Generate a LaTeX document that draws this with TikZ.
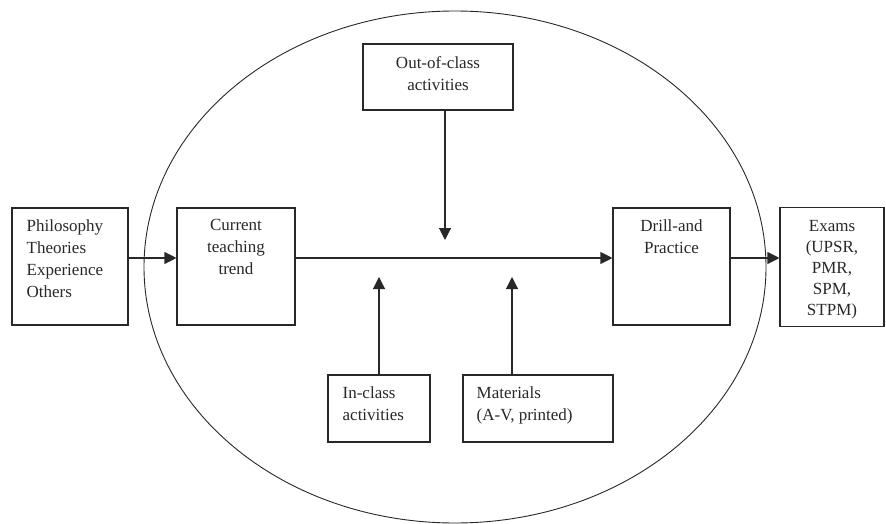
\documentclass[tikz,border=0pt]{standalone}
\usepackage{fontspec}
\setmainfont{Liberation Serif}
\usetikzlibrary{arrows.meta}
\definecolor{ink}{RGB}{40,40,40}
\tikzset{
  box/.style={draw=ink, line width=1.1pt, rectangle, inner sep=0pt},
  lab/.style={inner sep=0pt, text=ink, font=\fontsize{17}{22}\selectfont},
  conn/.style={draw=ink, line width=1.1pt, -{Triangle[length=12pt,width=12pt]}},
}
\begin{document}
\begin{tikzpicture}[x=1pt,y=-1pt]
\useasboundingbox (0,0) rectangle (886,524);
% ellipse
\draw[ink, line width=0.9pt] (455,267) ellipse [x radius=311, y radius=256];
% boxes
\node[box, minimum width=116pt, minimum height=117pt] (phil) at (70,266.5) {};
\node[box, minimum width=118pt, minimum height=117pt] (cur) at (236,266.5) {};
\node[box, minimum width=117pt, minimum height=117pt] (drill) at (671.5,266.5) {};
\node[box, minimum width=104pt, minimum height=119pt] (exam) at (832,267) {};
\node[box, minimum width=150pt, minimum height=66pt] (out) at (438,77) {};
\node[box, minimum width=102pt, minimum height=67pt] (inc) at (379,408.5) {};
\node[box, minimum width=150pt, minimum height=67pt] (mat) at (538,408.5) {};
% texts
\node[lab, anchor=north west, align=left] (philt) at ([xshift=15pt,yshift=-12pt]phil.north west) {Philosophy\\Theories\\Experience\\Others};
\node[lab, anchor=north, align=center] (curt) at ([yshift=-12pt]cur.north) {Current\\teaching\\trend};
\node[lab, anchor=north, align=center] (drillt) at ([yshift=-12pt]drill.north) {Drill-and\\Practice};
\node[lab, anchor=north, align=center, font=\fontsize{17}{21}\selectfont] (examt) at ([yshift=-13pt]exam.north) {Exams\\(UPSR,\\PMR,\\SPM,\\STPM)};
\node[lab, anchor=north, align=center] (outt) at ([yshift=-13pt]out.north) {Out-of-class\\activities};
\node[lab, anchor=north west, align=left] (inct) at ([xshift=15pt,yshift=-12pt]inc.north west) {In-class\\activities};
\node[lab, anchor=north west, align=left] (matt) at ([xshift=14pt,yshift=-12pt]mat.north west) {Materials\\(A-V, printed)};
% connectors
\coordinate (pe) at (phil.east |- 0,258);
\coordinate (cw) at (cur.west |- 0,258);
\coordinate (ce) at (cur.east |- 0,258);
\coordinate (dw) at (drill.west |- 0,258);
\coordinate (de) at (drill.east |- 0,258);
\coordinate (ew) at (exam.west |- 0,258);
\coordinate (downtip) at (445,240);
\coordinate (outb) at (out.south -| downtip);
\coordinate (uptipa) at (inc.north |- 0,277);
\coordinate (uptipb) at (512,277);
\coordinate (matn) at (mat.north -| uptipb);
\draw[conn] (pe) -- (cw);
\draw[conn] (ce) -- (dw);
\draw[conn] (de) -- (ew);
\draw[conn] (outb) -- (downtip);
\draw[conn] (inc.north) -- (uptipa);
\draw[conn] (matn) -- (uptipb);
\end{tikzpicture}
\end{document}
